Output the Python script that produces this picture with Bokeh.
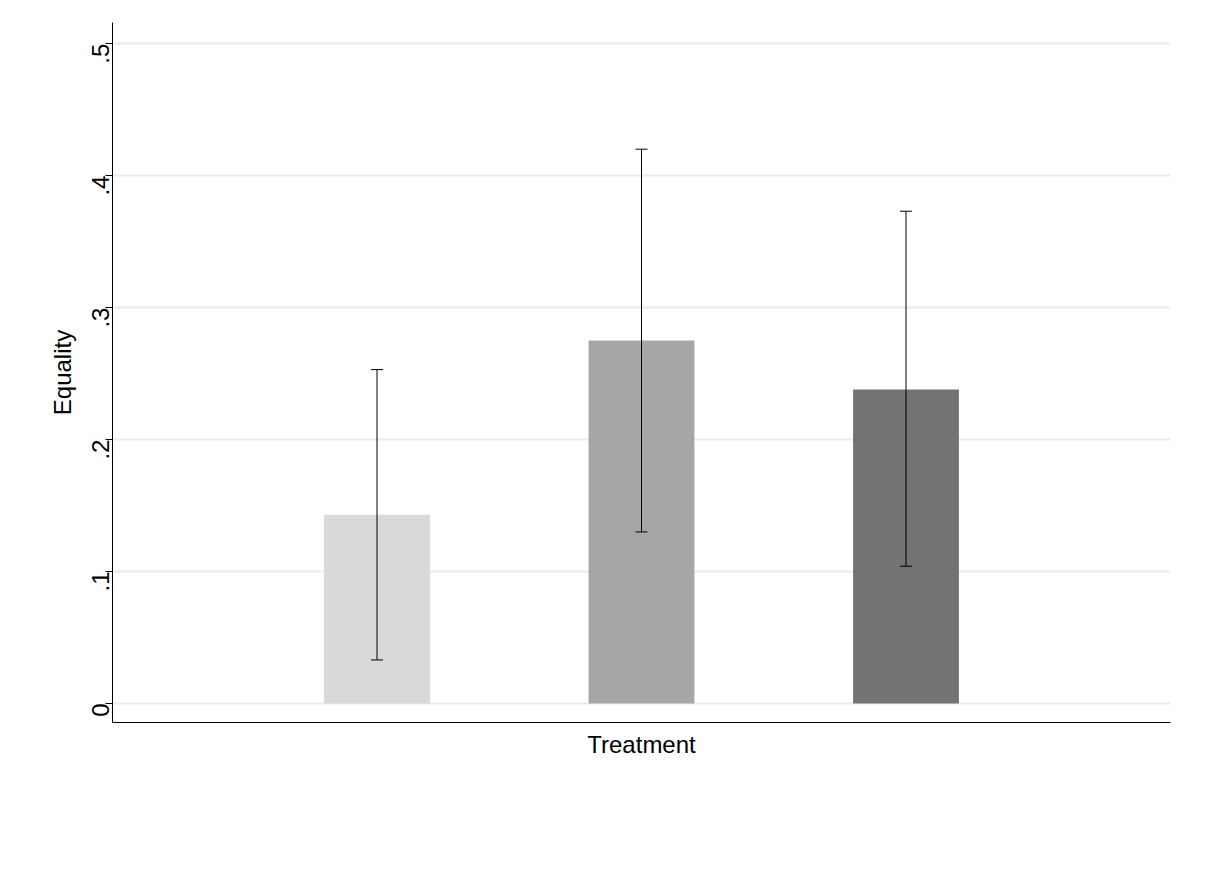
import math
from bokeh.plotting import figure
from bokeh.models import ColumnDataSource, Whisker, TeeHead, Range1d, Legend, LegendItem, FixedTicker
from bokeh.embed import file_html
from bokeh.resources import INLINE

treatments = ["Neutral", "Duque", "López"]
means = [0.143, 0.275, 0.238]
lower = [0.033, 0.130, 0.104]
upper = [0.253, 0.420, 0.373]
colors = ["#d9d9d9", "#a6a6a6", "#737373"]
positions = [1, 2, 3]
yticks = [0, 0.1, 0.2, 0.3, 0.4, 0.5]
ytick_labels = {0: "0", 0.1: ".1", 0.2: ".2", 0.3: ".3", 0.4: ".4", 0.5: ".5"}

p = figure(frame_width=1058, frame_height=700, output_backend="svg", toolbar_location=None,
           x_range=Range1d(0, 4), y_range=Range1d(-0.0144, 0.516),
           min_border_left=112, min_border_top=22, min_border_right=24, min_border_bottom=10)
p.outline_line_color = None
p.background_fill_color = "white"
p.border_fill_color = "white"

src = ColumnDataSource(dict(x=positions, lo=lower, hi=upper))
renderers = []
for i, t in enumerate(treatments):
    r = p.vbar(x=[positions[i]], top=[means[i]], bottom=0, width=0.4, fill_color=colors[i], line_color=None)
    renderers.append(r)

w = Whisker(source=src, base="x", lower="lo", upper="hi", line_color="black", line_width=1, level="overlay",
            upper_head=TeeHead(size=12, line_color="black", line_width=1),
            lower_head=TeeHead(size=12, line_color="black", line_width=1))
p.add_layout(w)

p.xgrid.visible = False
p.ygrid.grid_line_color = "#eaeaea"
p.ygrid.grid_line_width = 2
p.ygrid.ticker = FixedTicker(ticks=yticks)

p.yaxis.ticker = FixedTicker(ticks=yticks)
p.yaxis.major_label_overrides = ytick_labels
p.yaxis.major_label_orientation = math.pi / 2
p.yaxis.minor_tick_line_color = None
p.yaxis.major_tick_out = 7
p.yaxis.major_tick_in = 0
p.yaxis.axis_label = "Equality"
p.xaxis.axis_label = "Treatment"
for ax in (p.xaxis, p.yaxis):
    ax.axis_label_text_font = "Liberation Sans"
    ax.axis_label_text_font_style = "normal"
    ax.axis_label_text_font_size = "24px"
    ax.major_label_text_font = "Liberation Sans"
    ax.major_label_text_font_size = "24px"
    ax.axis_line_color = "black"
    ax.axis_label_text_color = "black"
    ax.major_label_text_color = "black"
p.xaxis.major_tick_line_color = None
p.xaxis.minor_tick_line_color = None
p.xaxis.major_label_text_font_size = "0px"
p.xaxis.axis_label_standoff = 2

legend = Legend(items=[LegendItem(label=t, renderers=[r]) for t, r in zip(treatments, renderers)],
                orientation="horizontal", location="center")
legend.glyph_width = 114
legend.glyph_height = 32
legend.label_standoff = 20
legend.spacing = 44
legend.label_text_font = "Liberation Sans"
legend.label_text_font_size = "26px"
legend.label_text_color = "black"
legend.border_line_color = None
legend.margin = 14
p.add_layout(legend, "below")

open("out.html", "w").write(file_html(p, INLINE))
